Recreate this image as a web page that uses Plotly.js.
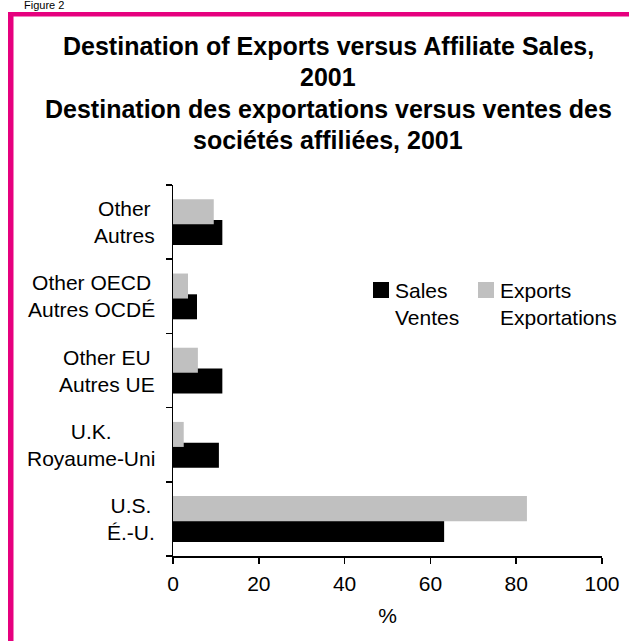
<!DOCTYPE html>
<html>
<head>
<meta charset="utf-8">
<script src="https://cdn.plot.ly/plotly-3.0.1.min.js"></script>
<style>
html,body{margin:0;padding:0;background:#fff;}
#chart{width:629px;height:641px;}
</style>
</head>
<body>
<div id="chart"></div>
<script>
// Categories (bottom to top)
const categories = ["U.S.<br>É.-U.", "U.K.<br>Royaume-Uni", "Other EU<br>Autres UE", "Other OECD<br>Autres OCDÉ", "Other<br>Autres"];
// Series values (%)
const salesValues   = [63.2, 10.7, 11.5, 5.6, 11.5];
const exportsValues = [82.5, 2.5, 5.8, 3.5, 9.5];
const seriesNames = ["Sales<br>Ventes", "Exports<br>Exportations"];
const seriesColors = ["#000000", "#c0c0c0"];
const xTickValues = [0, 20, 40, 60, 80, 100];
const xTickLabels = ["0", "20", "40", "60", "80", "100"];
const titleLines = [
  "Destination of Exports versus Affiliate Sales,",
  "2001",
  "Destination des exportations versus ventes des",
  "sociétés affiliées, 2001"
];
const xAxisTitle = "%";
const figureLabel = "Figure 2";

const FONT = "Liberation Sans, Arial, sans-serif";
const W = 629, H = 641;
const M = {l: 173, r: 27, t: 185, b: 85};
const PW = W - M.l - M.r, PH = H - M.t - M.b;
const px2x = p => (p - M.l) / PW;
const py2y = p => 1 - (p - M.t) / PH;

const barW = 0.337;
const traces = [
  {type: 'bar', orientation: 'h', y: categories, x: salesValues, name: seriesNames[0],
   marker: {color: seriesColors[0], line: {width: 0}}, width: barW, offset: -0.31, showlegend: false},
  {type: 'bar', orientation: 'h', y: categories, x: exportsValues, name: seriesNames[1],
   marker: {color: seriesColors[1], line: {width: 0}}, width: barW, offset: -0.03, showlegend: false}
];

const annotations = [];
const titleY = [46, 77, 109, 140];
titleLines.forEach((t, i) => annotations.push({
  text: '<b>' + t + '</b>', xref: 'paper', yref: 'paper', x: px2x(328), y: py2y(titleY[i]),
  xanchor: 'center', yanchor: 'middle', showarrow: false,
  font: {family: FONT, size: 25, color: '#000'}
}));
categories.forEach(c => annotations.push({
  text: c, xref: 'paper', yref: 'y', x: px2x(157), y: c,
  xanchor: 'right', yanchor: 'middle', align: 'center', showarrow: false,
  font: {family: FONT, size: 21, color: '#000'}
}));
// Legend (manual)
const legX = [373, 478];
const legTextX = [393, 498];
const shapes = [];
seriesNames.forEach((n, i) => {
  shapes.push({type: 'rect', xref: 'paper', yref: 'paper',
    x0: px2x(legX[i]), x1: px2x(legX[i] + 16), y0: py2y(298), y1: py2y(282),
    fillcolor: seriesColors[i], line: {width: 0}});
  annotations.push({text: n, xref: 'paper', yref: 'paper', x: px2x(legTextX[i]), y: py2y(277),
    xanchor: 'left', yanchor: 'top', align: 'left', showarrow: false,
    font: {family: FONT, size: 21, color: '#000'}});
});
annotations.push({text: figureLabel, xref: 'paper', yref: 'paper', x: px2x(22), y: py2y(5),
  xanchor: 'left', yanchor: 'middle', showarrow: false, font: {family: FONT, size: 11, color: '#000'}});
// Border
const pink = '#e6007e';
shapes.push({type: 'rect', xref: 'paper', yref: 'paper', x0: px2x(8), x1: px2x(13.5), y0: py2y(641), y1: py2y(12),
  fillcolor: pink, line: {width: 0}});
shapes.push({type: 'rect', xref: 'paper', yref: 'paper', x0: px2x(8), x1: px2x(629), y0: py2y(16.5), y1: py2y(12),
  fillcolor: pink, line: {width: 0}});

const layout = {
  width: W, height: H,
  margin: M,
  paper_bgcolor: '#fff', plot_bgcolor: '#fff',
  font: {family: FONT, size: 21, color: '#000'},
  barmode: 'overlay',
  showlegend: false,
  xaxis: {
    range: [0, 100], tickvals: xTickValues, ticktext: xTickLabels,
    showgrid: false, zeroline: false, showline: true, linecolor: '#000', linewidth: 1.5,
    ticks: 'outside', ticklen: 6, tickcolor: '#000', tickwidth: 1.5,
    ticklabelstandoff: 2,
    tickfont: {family: FONT, size: 21, color: '#000'},
    title: {text: xAxisTitle, font: {family: FONT, size: 21, color: '#000'}, standoff: 14},
    fixedrange: true
  },
  yaxis: {
    type: 'category', categoryorder: 'array', categoryarray: categories,
    range: [-0.5, 4.5], showticklabels: false, tickson: 'boundaries',
    showgrid: false, zeroline: false, showline: true, linecolor: '#000', linewidth: 1.5,
    ticks: 'outside', ticklen: 6, tickcolor: '#000', tickwidth: 1.5,
    fixedrange: true
  },
  annotations: annotations,
  shapes: shapes
};
Plotly.newPlot('chart', traces, layout, {displayModeBar: false, staticPlot: true});
</script>
</body>
</html>
